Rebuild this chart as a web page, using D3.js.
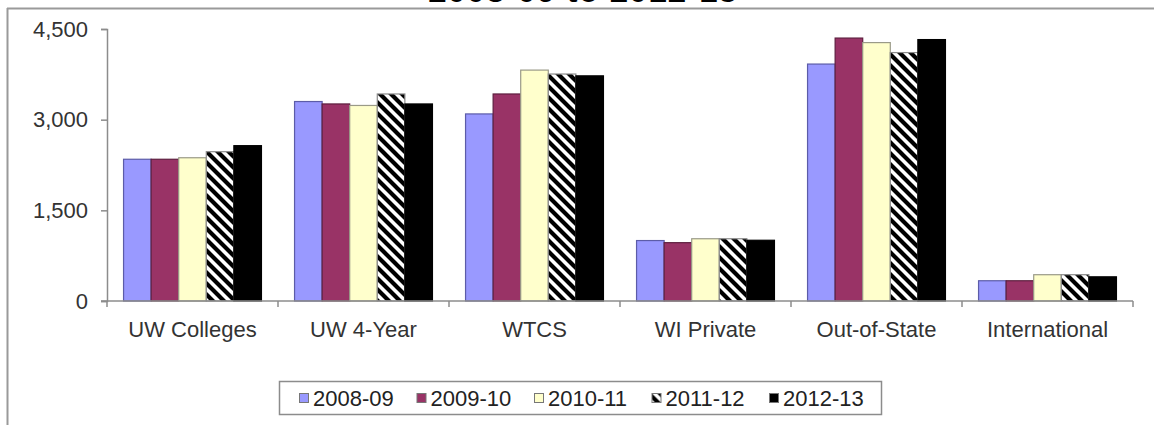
<!DOCTYPE html>
<html>
<head>
<meta charset="utf-8">
<script src="https://cdn.jsdelivr.net/npm/d3@7/dist/d3.min.js"></script>
<style>
  html, body { margin: 0; padding: 0; background: #fff; }
  svg { display: block; }
  text { font-family: Arial, "Liberation Sans", sans-serif; }
</style>
</head>
<body>
<svg id="chart" width="1154" height="425"></svg>
<script>
const titleText = "2008-09 to 2012-13";
const categories = ["UW Colleges", "UW 4-Year", "WTCS", "WI Private", "Out-of-State", "International"];
const seriesNames = ["2008-09", "2009-10", "2010-11", "2011-12", "2012-13"];
const v2008_09 = [2345, 3300, 3095, 1000, 3920, 335];
const v2009_10 = [2345, 3260, 3425, 965, 4350, 335];
const v2010_11 = [2370, 3235, 3820, 1030, 4275, 435];
const v2011_12 = [2470, 3425, 3755, 1030, 4110, 435];
const v2012_13 = [2570, 3260, 3725, 1005, 4325, 400];
const seriesValues = [v2008_09, v2009_10, v2010_11, v2011_12, v2012_13];
const yTickValues = [0, 1500, 3000, 4500];

const svg = d3.select("#chart");
const W = 1154, H = 425;
const plot = { left: 107, right: 1133, top: 29, bottom: 301 };

// hatch pattern
const defs = svg.append("defs");
const P = 11;
const pat = defs.append("pattern")
  .attr("id", "hatch").attr("patternUnits", "userSpaceOnUse")
  .attr("width", P).attr("height", P);
pat.append("rect").attr("width", P).attr("height", P).attr("fill", "#fff");
pat.append("path")
  .attr("d", `M0,0L${P},${P}M${-P/2},${P/2}L${P/2},${3*P/2}M${P/2},${-P/2}L${3*P/2},${P/2}`)
  .attr("stroke", "#000").attr("stroke-width", 4.2);

const fills = ["#9999ff", "#993366", "#ffffcc", "url(#hatch)", "#000000"];
const strokes = ["#5c5ca8", "#5e1f3f", "#9a9a88", "#8a8a8a", "#000000"];

// frame
svg.append("line").attr("x1", 7).attr("x2", W).attr("y1", 8.5).attr("y2", 8.5)
  .attr("stroke", "#9a9a9a").attr("stroke-width", 2);
svg.append("line").attr("x1", 7.5).attr("x2", 7.5).attr("y1", 8).attr("y2", H)
  .attr("stroke", "#9a9a9a").attr("stroke-width", 2);

// title (mostly cut off at top, as in the reference)
svg.append("text").attr("x", 583).attr("y", 2)
  .attr("text-anchor", "middle")
  .attr("font-size", 33).attr("font-weight", "bold")
  .attr("letter-spacing", 1)
  .attr("fill", "#000").text(titleText);

const x0 = d3.scaleBand().domain(categories).range([plot.left, plot.right]).padding(0);
const x1 = d3.scaleBand().domain(seriesNames).range([0, x0.bandwidth()])
  .paddingInner(0).paddingOuter(0.6);
const y = d3.scaleLinear().domain([0, 4500]).range([plot.bottom, plot.top]);

// bars
const barData = [];
categories.forEach((c, ci) => {
  seriesNames.forEach((s, si) => {
    barData.push({ c, s, si, v: seriesValues[si][ci] });
  });
});
svg.append("g").selectAll("rect").data(barData).join("rect")
  .attr("x", d => x0(d.c) + x1(d.s))
  .attr("y", d => y(d.v))
  .attr("width", x1.bandwidth())
  .attr("height", d => y(0) - y(d.v))
  .attr("fill", d => fills[d.si])
  .attr("stroke", d => strokes[d.si])
  .attr("stroke-width", 1.2);

// y axis
const yAxis = d3.axisLeft(y).tickValues(yTickValues).tickSize(6).tickPadding(13)
  .tickFormat(d3.format(","));
const gy = svg.append("g").attr("transform", `translate(${plot.left},0)`).call(yAxis);
gy.select(".domain").attr("stroke", "#8c8c8c").attr("stroke-width", 1.5);
gy.selectAll(".tick line").attr("stroke", "#8c8c8c").attr("stroke-width", 1.5);
gy.selectAll(".tick text").attr("font-size", 22).attr("fill", "#333")
  .attr("font-family", "Arial, 'Liberation Sans', sans-serif");

// x axis
const xAxis = d3.axisBottom(x0).tickSize(0).tickPadding(20);
const gx = svg.append("g").attr("transform", `translate(0,${plot.bottom})`).call(xAxis);
gx.select(".domain").attr("stroke", "#8c8c8c").attr("stroke-width", 1.5)
  .attr("d", `M${plot.left - 6},0H${plot.right}`);
gx.selectAll(".tick text").attr("font-size", 22).attr("fill", "#333")
  .attr("font-family", "Arial, 'Liberation Sans', sans-serif")
  .attr("dy", "0.71em");
// category boundary ticks
const bounds = categories.map(c => x0(c)).concat([plot.right]);
gx.append("g").selectAll("line").data(bounds).join("line")
  .attr("x1", d => d).attr("x2", d => d).attr("y1", 0).attr("y2", 6)
  .attr("stroke", "#8c8c8c").attr("stroke-width", 1.5);

// legend
const lg = svg.append("g");
lg.append("rect").attr("x", 279.5).attr("y", 381.5).attr("width", 602).attr("height", 33)
  .attr("fill", "#fff").attr("stroke", "#8c8c8c").attr("stroke-width", 1.5);
const lx = d3.scalePoint().domain(seriesNames).range([299, 769]);
const items = lg.selectAll("g.item").data(seriesNames).join("g")
  .attr("transform", d => `translate(${lx(d)},0)`);
items.append("rect").attr("x", 0.5).attr("y", 393.5).attr("width", 9).attr("height", 9)
  .attr("fill", (d, i) => fills[i]).attr("stroke", "#777").attr("stroke-width", 1);
items.append("text").attr("x", 14).attr("y", 405.5)
  .attr("font-size", 22).attr("fill", "#222").text(d => d);
</script>
</body>
</html>
